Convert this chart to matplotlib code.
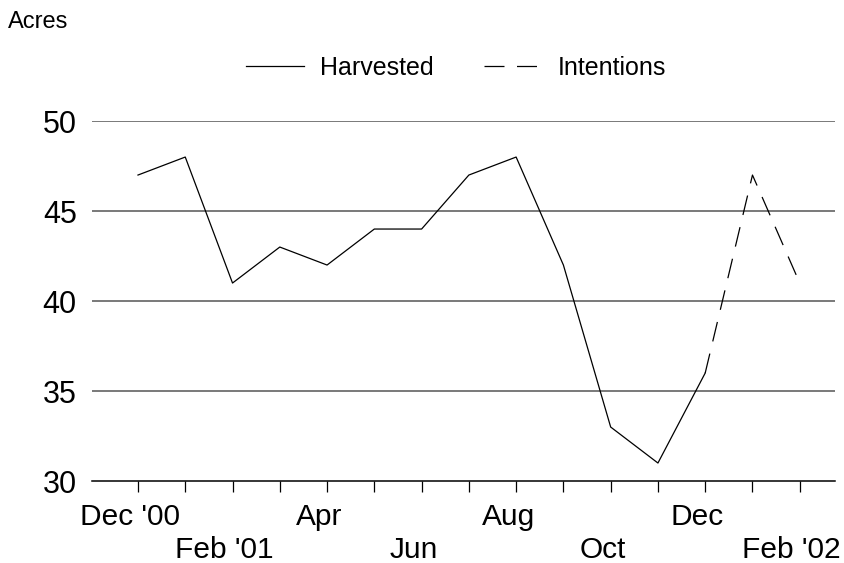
import matplotlib.pyplot as plt
import matplotlib.transforms as mtransforms

plt.rcParams['font.family'] = ['Liberation Sans', 'DejaVu Sans']

months = ["Dec '00", 'Jan', "Feb '01", 'Mar', 'Apr', 'May', 'Jun', 'Jul',
          'Aug', 'Sep', 'Oct', 'Nov', 'Dec', 'Jan', "Feb '02"]
harvested = [47, 48, 41, 43, 42, 44, 44, 47, 48, 42, 33, 31, 36]
intentions = [36, 47, 41]
y_ticks = [30, 35, 40, 45, 50]

fig = plt.figure(figsize=(8.44, 5.63), dpi=100)
ax = fig.add_axes([0.109, 0.1456, 0.880, 0.6394])

x_h = list(range(len(harvested)))
x_i = list(range(len(harvested) - 1, len(harvested) - 1 + len(intentions)))

ax.plot(x_h, harvested, color='black', lw=0.9, label='Harvested')
ax.plot(x_i, intentions, color='black', lw=0.9, dashes=(16, 10), label='Intentions')

ax.set_xlim(-0.973, 14.74)
ax.set_ylim(30, 50)
ax.set_yticks(y_ticks)
for y in y_ticks[1:]:
    ax.axhline(y, color='#555555', lw=1.1, zorder=0)

# labels every other month, alternating rows
labels = []
for i, m in enumerate(months):
    if i % 2 == 1:
        labels.append('')
    elif (i // 2) % 2 == 0:
        labels.append(m)
    else:
        labels.append('\n' + m)
ax.set_xticks(range(len(months)))
ax.set_xticklabels(labels)

ax.tick_params(axis='x', direction='out', length=8, width=0.9, pad=8, labelsize=21.5)
ax.tick_params(axis='y', length=0, pad=11, labelsize=22)

offset = mtransforms.ScaledTranslation(-8 / 100, 0, fig.dpi_scale_trans)
for lab in ax.get_xticklabels():
    lab.set_transform(lab.get_transform() + offset)

for s in ['top', 'right', 'left']:
    ax.spines[s].set_visible(False)
ax.spines['bottom'].set_linewidth(1.1)

fig.text(8 / 844, 1 - 22 / 563, 'Acres', fontsize=17, va='center', ha='left')

fig.legend(loc='center', bbox_to_anchor=(456 / 844, 1 - 68 / 563), ncol=2,
           frameon=False, fontsize=18, handlelength=2.3, handletextpad=0.65,
           columnspacing=2.0)

fig.savefig('out.png', dpi=100)
